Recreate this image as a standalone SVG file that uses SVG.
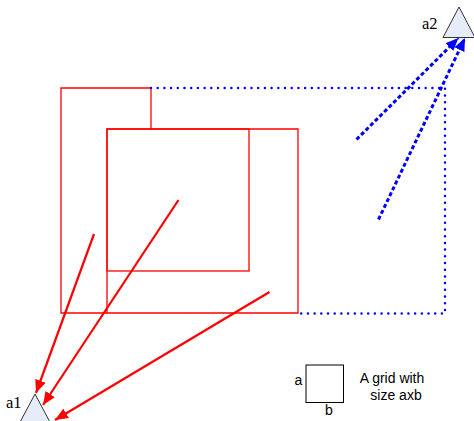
<svg xmlns="http://www.w3.org/2000/svg" width="474" height="421" viewBox="0 0 474 421">
<defs>
<marker id="ar" markerUnits="userSpaceOnUse" markerWidth="14" markerHeight="12" refX="13" refY="6" orient="auto">
<path d="M0,0.5 L13,6 L0,11.5 Z" fill="#ff0000"/>
</marker>
<marker id="ab" markerUnits="userSpaceOnUse" markerWidth="14" markerHeight="12" refX="13" refY="6" orient="auto">
<path d="M0,0.5 L13,6 L0,11.5 Z" fill="#0000ff"/>
</marker>
</defs>
<style>
.red{fill:none;stroke:#ff0000;stroke-width:1.3}
.dot{fill:none;stroke:#0000ff;stroke-width:2.5;stroke-linecap:round;stroke-dasharray:0 6.7}
.rarr{fill:none;stroke:#ff0000;stroke-width:2.2;marker-end:url(#ar)}
.barr{fill:none;stroke:#0000ff;stroke-width:3;stroke-dasharray:4 2.5;marker-end:url(#ab)}
.tri{fill:#e6ecf8;stroke:#333;stroke-width:1}
.lbl{font-family:"Liberation Serif",serif;font-size:16.5px;fill:#000}
.leg{font-family:"Liberation Sans",Arial,sans-serif;font-size:14px;fill:#000}
</style>
<g id="region">
<path class="red" d="M151,88 H61 V313 H298 V129 H107 V313"/>
<path class="red" d="M151,88 V129"/>
<rect class="red" x="107" y="129" width="142" height="142"/>
</g>
<g id="boundary">
<path class="dot" d="M151,88 H445 V313.5 H298"/>
</g>
<g id="a1">
<path class="tri" d="M35,394 L51,424 L19,424 Z"/>
<text class="lbl" x="6" y="408">a1</text>
</g>
<g id="a2">
<path class="tri" d="M459,7 L475,37.5 L443,37.5 Z"/>
<text class="lbl" x="422" y="28.5">a2</text>
</g>
<g id="connectors">
<line class="rarr" x1="94" y1="234" x2="36" y2="393"/>
<line class="rarr" x1="178.5" y1="200" x2="43" y2="405"/>
<line class="rarr" x1="269.5" y1="292" x2="55" y2="420"/>
<line class="barr" x1="356.5" y1="139.5" x2="458.5" y2="38"/>
<line class="barr" x1="378.5" y1="219.5" x2="465" y2="38"/>
</g>
<g id="legend">
<rect x="306" y="365" width="37.5" height="37.5" fill="#fff" stroke="#000" stroke-width="1"/>
<text class="leg" x="294.5" y="385">a</text>
<text class="leg" x="325" y="414.5">b</text>
<text class="leg" x="392" y="383" text-anchor="middle">A grid with</text>
<text class="leg" x="396" y="399.5" text-anchor="middle">size axb</text>
</g>
</svg>
